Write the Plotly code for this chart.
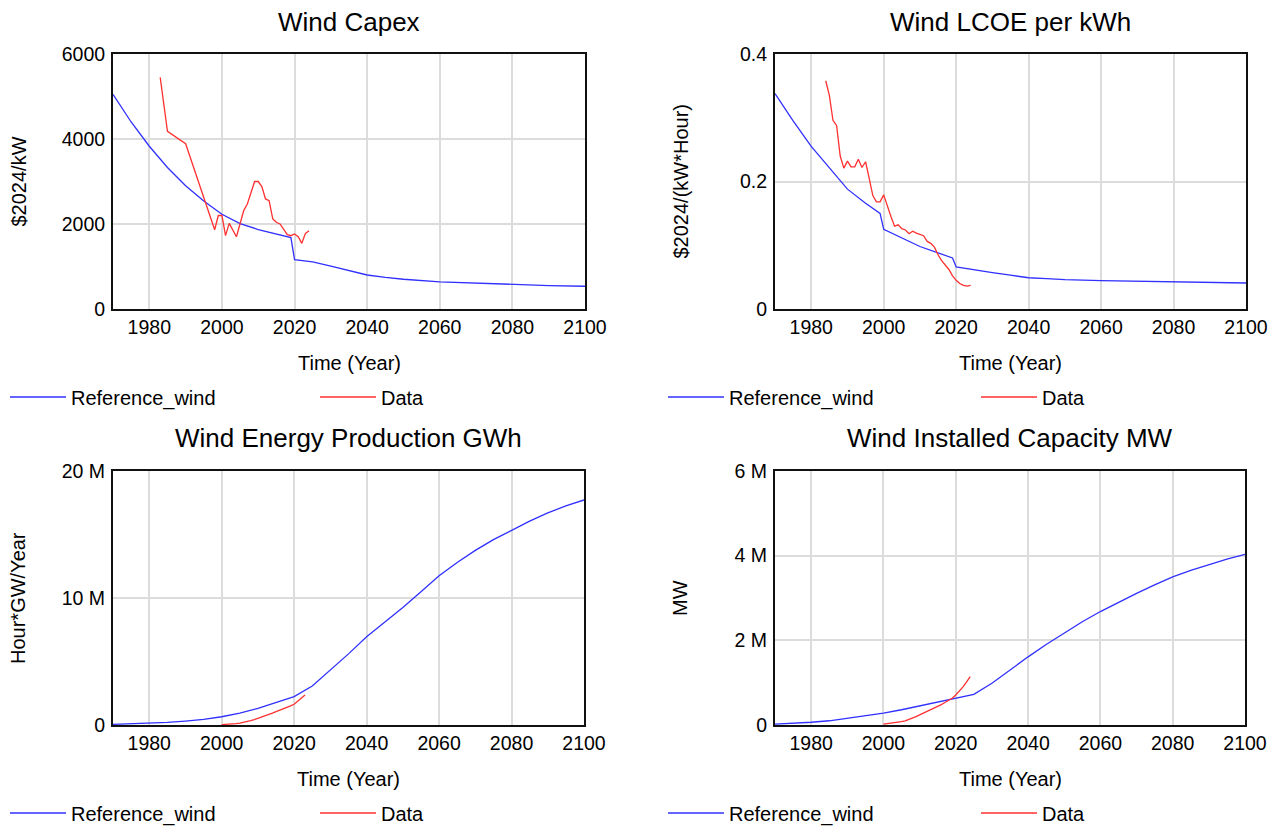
import plotly.graph_objects as go

# ---------------- data ----------------
capex_ref_years = [1970, 1975, 1980, 1985, 1990, 1995, 2000, 2005, 2010, 2015, 2019, 2020,
                   2025, 2030, 2035, 2040, 2045, 2050, 2060, 2070, 2080, 2090, 2100]
capex_ref = [5050, 4400, 3830, 3330, 2900, 2540, 2230, 2010, 1870, 1760, 1680, 1160,
             1110, 1010, 900, 800, 745, 700, 640, 605, 575, 550, 535]
capex_data_years = [1983, 1985, 1990, 1998, 1999, 2000, 2001, 2002, 2004, 2006, 2007, 2009,
                    2010, 2011, 2012, 2013, 2014, 2015, 2016, 2017, 2018, 2019, 2020, 2021,
                    2022, 2023, 2024]
capex_data = [5450, 4180, 3890, 1865, 2200, 2200, 1725, 2015, 1700, 2315, 2470, 3000,
              3000, 2880, 2590, 2550, 2120, 2040, 2000, 1880, 1750, 1725, 1765, 1700,
              1545, 1780, 1840]

lcoe_ref_years = [1970, 1975, 1980, 1985, 1990, 1995, 1999, 2000, 2005, 2010, 2015, 2019, 2020,
                  2025, 2030, 2035, 2040, 2045, 2050, 2060, 2070, 2080, 2090, 2100]
lcoe_ref = [0.338, 0.295, 0.255, 0.221, 0.188, 0.166, 0.150, 0.125, 0.111, 0.098, 0.088, 0.080,
            0.066, 0.061, 0.057, 0.053, 0.049, 0.0475, 0.046, 0.0444, 0.0433, 0.0424, 0.0415,
            0.0408]
lcoe_data_years = list(range(1984, 2025))
lcoe_data = [0.358, 0.335, 0.296, 0.288, 0.240, 0.221, 0.232, 0.223, 0.223, 0.235, 0.222,
             0.231, 0.205, 0.178, 0.168, 0.168, 0.179, 0.160, 0.145, 0.130, 0.132, 0.126,
             0.124, 0.118, 0.122, 0.119, 0.117, 0.115, 0.106, 0.103, 0.097, 0.085, 0.076,
             0.069, 0.062, 0.052, 0.045, 0.040, 0.037, 0.036, 0.037]

energy_ref_years = [1970, 1975, 1980, 1985, 1990, 1995, 2000, 2005, 2010, 2015, 2020, 2025,
                    2030, 2035, 2040, 2045, 2050, 2055, 2060, 2065, 2070, 2075, 2080, 2085,
                    2090, 2095, 2100]
energy_ref = [0.05e6, 0.08e6, 0.13e6, 0.2e6, 0.31e6, 0.45e6, 0.65e6, 0.93e6, 1.31e6, 1.75e6,
              2.23e6, 3.07e6, 4.3e6, 5.6e6, 6.95e6, 8.1e6, 9.25e6, 10.5e6, 11.75e6, 12.8e6,
              13.75e6, 14.6e6, 15.35e6, 16.05e6, 16.7e6, 17.25e6, 17.72e6]
energy_data_years = list(range(2000, 2024))
energy_data = [0.03e6, 0.04e6, 0.06e6, 0.08e6, 0.11e6, 0.15e6, 0.2e6, 0.27e6, 0.35e6, 0.43e6,
               0.52e6, 0.6e6, 0.7e6, 0.8e6, 0.93e6, 1.05e6, 1.15e6, 1.27e6, 1.4e6, 1.5e6,
               1.63e6, 1.85e6, 2.1e6, 2.36e6]

capacity_ref_years = energy_ref_years
capacity_ref = [0.02e6, 0.04e6, 0.065e6, 0.1e6, 0.16e6, 0.21e6, 0.28e6, 0.36e6, 0.45e6, 0.54e6,
                0.63e6, 0.725e6, 0.985e6, 1.3e6, 1.61e6, 1.9e6, 2.18e6, 2.44e6, 2.68e6, 2.9e6,
                3.11e6, 3.31e6, 3.5e6, 3.65e6, 3.79e6, 3.92e6, 4.03e6]
capacity_data_years = list(range(2000, 2025))
capacity_data = [0.02e6, 0.03e6, 0.04e6, 0.05e6, 0.065e6, 0.08e6, 0.1e6, 0.13e6, 0.165e6,
                 0.2e6, 0.24e6, 0.28e6, 0.32e6, 0.36e6, 0.39e6, 0.43e6, 0.48e6, 0.53e6,
                 0.58e6, 0.63e6, 0.71e6, 0.8e6, 0.9e6, 1.02e6, 1.14e6]

x_ticks = [1980, 2000, 2020, 2040, 2060, 2080, 2100]
x_ticktext = ["1980", "2000", "2020", "2040", "2060", "2080", "2100"]
capex_ticks = [0, 2000, 4000, 6000]
capex_ticktext = ["0", "2000", "4000", "6000"]
lcoe_ticks = [0, 0.2, 0.4]
lcoe_ticktext = ["0", "0.2", "0.4"]
energy_ticks = [0, 10e6, 20e6]
energy_ticktext = ["0", "10 M", "20 M"]
capacity_ticks = [0, 2e6, 4e6, 6e6]
capacity_ticktext = ["0", "2 M", "4 M", "6 M"]

titles = ["Wind Capex", "Wind LCOE per kWh", "Wind Energy Production GWh", "Wind Installed Capacity MW"]
ytitles = ["$2024/kW", "$2024/(kW*Hour)", "Hour*GW/Year", "MW"]

# ---------------- layout geometry ----------------
W, H = 1279, 827
FONT = "Liberation Sans, Arial, sans-serif"
BLUE = "#3030ff"
RED = "#ff3030"

def px(v):
    return v / W

def py(v):
    return 1 - v / H

panels = [
    dict(xd=[px(113), px(585)], yd=[py(309), py(54)], yr=[0, 6000], tv=capex_ticks, tt=capex_ticktext,
         ref=(capex_ref_years, capex_ref), dat=(capex_data_years, capex_data)),
    dict(xd=[px(775), px(1246)], yd=[py(309), py(54)], yr=[0, 0.4], tv=lcoe_ticks, tt=lcoe_ticktext,
         ref=(lcoe_ref_years, lcoe_ref), dat=(lcoe_data_years, lcoe_data)),
    dict(xd=[px(113), px(584)], yd=[py(725), py(471)], yr=[0, 20e6], tv=energy_ticks, tt=energy_ticktext,
         ref=(energy_ref_years, energy_ref), dat=(energy_data_years, energy_data)),
    dict(xd=[px(775), px(1245)], yd=[py(725), py(471)], yr=[0, 6e6], tv=capacity_ticks, tt=capacity_ticktext,
         ref=(capacity_ref_years, capacity_ref), dat=(capacity_data_years, capacity_data)),
]

fig = go.Figure()
layout = dict(
    width=W, height=H, margin=dict(l=0, r=0, t=0, b=0, autoexpand=False),
    paper_bgcolor="white", plot_bgcolor="white",
    font=dict(family=FONT, size=20, color="black"),
    annotations=[],
)

legend_pos = [(5, 397), (663, 397), (5, 813), (663, 813)]
legend_entry = [239, 242, 239, 242]
title_y = [22, 22, 438, 438]
xtitle_y = [363, 363, 779, 779]
ytitle_x = [18, 680, 18, 680]

for i, p in enumerate(panels):
    sfx = "" if i == 0 else str(i + 1)
    xa, ya = "x" + sfx, "y" + sfx
    leg = "legend" + sfx
    fig.add_trace(go.Scatter(x=p["ref"][0], y=p["ref"][1], mode="lines", name="Reference_wind",
                             line=dict(color=BLUE, width=1.3), xaxis=xa, yaxis=ya, legend=leg,
                             hoverinfo="skip"))
    fig.add_trace(go.Scatter(x=p["dat"][0], y=p["dat"][1], mode="lines", name="Data",
                             line=dict(color=RED, width=1.3), xaxis=xa, yaxis=ya, legend=leg,
                             hoverinfo="skip"))
    layout["xaxis" + sfx] = dict(
        domain=p["xd"], anchor=ya, range=[1970, 2100], tickvals=x_ticks, ticktext=x_ticktext,
        showgrid=True, gridcolor="#dcdcdc", gridwidth=2, zeroline=False,
        showline=True, mirror=True, linecolor="#111111", linewidth=2, ticks="",
        ticklabelstandoff=0, tickfont=dict(size=19.5, family=FONT, color="black"),
    )
    layout["yaxis" + sfx] = dict(
        domain=p["yd"], anchor=xa, range=p["yr"], tickvals=p["tv"], ticktext=p["tt"],
        showgrid=True, gridcolor="#dcdcdc", gridwidth=2, zeroline=False,
        showline=True, mirror=True, linecolor="#111111", linewidth=2, ticks="",
        ticklabelstandoff=2, tickfont=dict(size=19.5, family=FONT, color="black"),
    )
    lx, ly = legend_pos[i]
    layout[leg] = dict(
        x=px(lx), y=py(ly), xanchor="left", yanchor="middle", orientation="h",
        entrywidth=legend_entry[i], entrywidthmode="pixels", itemwidth=56,
        font=dict(size=20, family=FONT, color="black"), bgcolor="rgba(0,0,0,0)",
        traceorder="normal",
    )
    cx = (p["xd"][0] + p["xd"][1]) / 2
    layout["annotations"].append(dict(text=titles[i], x=cx, y=py(title_y[i]), xref="paper", yref="paper",
                                      xanchor="center", yanchor="middle", showarrow=False,
                                      font=dict(size=26, family=FONT, color="black")))
    layout["annotations"].append(dict(text="Time (Year)", x=cx, y=py(xtitle_y[i]), xref="paper", yref="paper",
                                      xanchor="center", yanchor="middle", showarrow=False,
                                      font=dict(size=20, family=FONT, color="black")))
    cy = (p["yd"][0] + p["yd"][1]) / 2
    layout["annotations"].append(dict(text=ytitles[i], x=px(ytitle_x[i]), y=cy, xref="paper", yref="paper",
                                      xanchor="center", yanchor="middle", showarrow=False, textangle=-90,
                                      font=dict(size=20, family=FONT, color="black")))

fig.update_layout(**layout)
fig.write_html("out.html")
